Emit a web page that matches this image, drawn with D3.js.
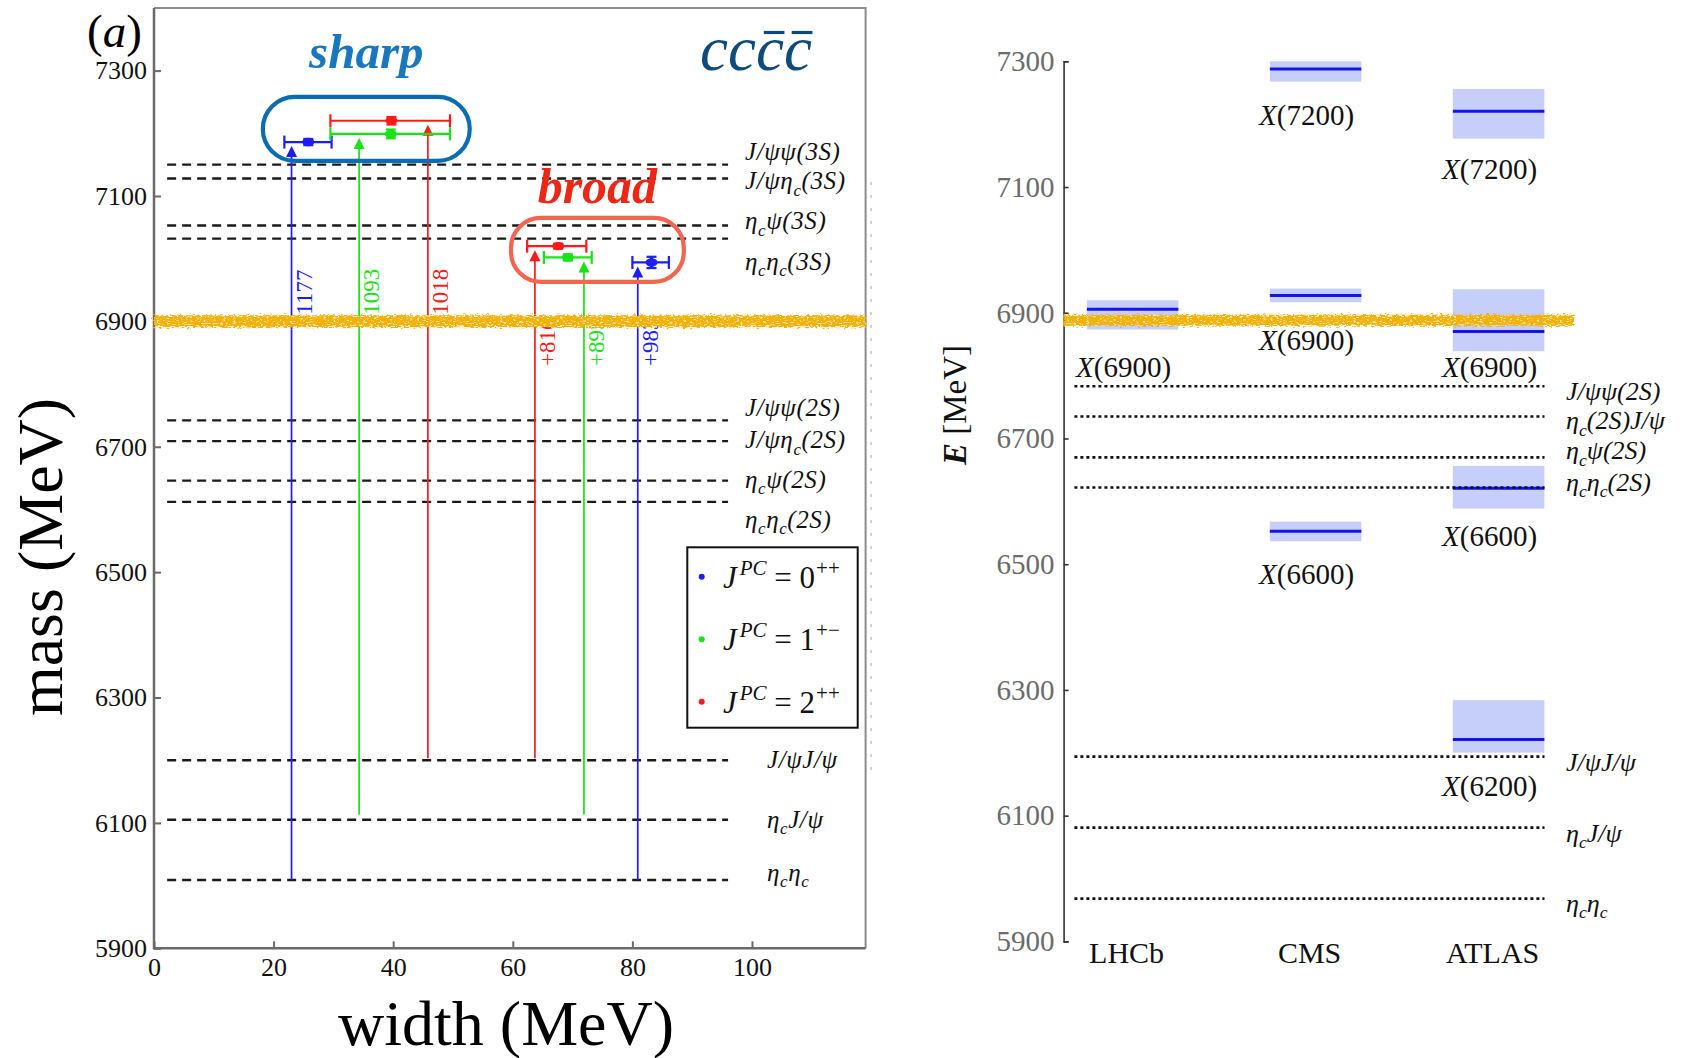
<!DOCTYPE html>
<html>
<head>
<meta charset="utf-8">
<script src="https://cdn.jsdelivr.net/npm/d3@7"></script>
<style>
  body { margin: 0; background: #fff; }
  svg { display: block; }
  text { font-family: "Liberation Serif", "Times New Roman", serif; }
</style>
</head>
<body>
<svg id="fig" width="1692" height="1058">
  <defs>
    <!-- hand-drawn highlighter look for the 6900 MeV stroke -->
    <filter id="marker" filterUnits="userSpaceOnUse" x="0" y="0" width="1692" height="1058">
      <feTurbulence type="fractalNoise" baseFrequency="0.3 0.8" numOctaves="3" seed="4" result="noise"/>
      <feDisplacementMap in="SourceGraphic" in2="noise" scale="7" xChannelSelector="R" yChannelSelector="G" result="rough"/>
      <feTurbulence type="fractalNoise" baseFrequency="0.3 0.9" numOctaves="2" seed="9" result="grain"/>
      <feColorMatrix in="grain" type="matrix"
        values="0 0 0 0 1  0 0 0 0 0.84  0 0 0 0 0.4  0 0 0 -6 2.6" result="spots"/>
      <feComposite in="spots" in2="rough" operator="in" result="spotsIn"/>
      <feMerge><feMergeNode in="rough"/><feMergeNode in="spotsIn"/></feMerge>
    </filter>
  </defs>
</svg>
<script>
// ================= panel (a): predicted cc̄cc̄ states, mass vs width =================
const massTicksA = [5900, 6100, 6300, 6500, 6700, 6900, 7100, 7300];
const widthTicks = [0, 20, 40, 60, 80, 100];

// two-meson thresholds (MeV)
const thrNamesA = ["J/ψψ(3S)", "J/ψη_c(3S)", "η_cψ(3S)", "η_cη_c(3S)",
                   "J/ψψ(2S)", "J/ψη_c(2S)", "η_cψ(2S)", "η_cη_c(2S)",
                   "J/ψJ/ψ", "η_cJ/ψ", "η_cη_c"];
const thrMassA = [7150, 7128, 7053, 7032, 6742, 6709, 6646, 6612, 6200, 6105, 6009];

// quantum numbers
const jpcSpin = ["0", "1", "2"];
const jpcSup = ["++", "+−", "++"];
const jpcColors = ["#1c1cff", "#17e317", "#ff1a1a"];

// predicted states: mass, width and their uncertainties
const stateJPC = [0, 1, 2, 2, 1, 0];
const stateClass = ["sharp", "sharp", "sharp", "broad", "broad", "broad"];
const stateWidth = [25.8, 39.6, 39.7, 67.6, 69.2, 83.2];
const stateWidthLo = [21.8, 29.5, 29.5, 62.4, 65.2, 80.0];
const stateWidthHi = [29.7, 49.5, 49.5, 72.3, 73.2, 86.1];
const stateMass = [7186, 7199, 7220, 7020, 7002, 6994];
const stateMassErr = [5, 7, 6, 4, 5, 9];

// decay arrows: channel threshold they rise from and their tags
const arrowAt = [23.0, 34.3, 45.8, 63.7, 71.9, 80.9];
const arrowFrom = [6009, 6113, 6203, 6203, 6113, 6009];
const arrowTag = ["+1177", "+1093", "+1018", "+816", "+895", "+983"];

// ================= panel (b): measured structures =================
const massTicksB = [5900, 6100, 6300, 6500, 6700, 6900, 7100, 7300];
const experiments = ["LHCb", "CMS", "ATLAS"];
const resExp = ["LHCb", "CMS", "CMS", "CMS", "ATLAS", "ATLAS", "ATLAS", "ATLAS"];
const resName = ["X(6900)", "X(7200)", "X(6900)", "X(6600)", "X(7200)", "X(6900)", "X(6600)", "X(6200)"];
const resMass = [6905.7, 7287.9, 6927.5, 6552.4, 7220.6, 6870.0, 6620.8, 6221.0];
const resLo = [6873.4, 7267.7, 6916.7, 6536.5, 7177.0, 6838.9, 6588.5, 6200.3];
const resHi = [6919.8, 7300.0, 6938.5, 6567.7, 7256.0, 6937.3, 6656.4, 6283.8];
const resLabelAt = [6814, 7215, 6857, 6484, 7129, 6814, 6545, 6147];

const thrNamesB = ["J/ψψ(2S)", "η_c(2S)J/ψ", "η_cψ(2S)", "η_cη_c(2S)", "J/ψJ/ψ", "η_cJ/ψ", "η_cη_c"];
const thrMassB = [6783, 6735, 6670, 6622, 6194, 6081, 5968];

// ================= drawing =================
const svg = d3.select("#fig");
svg.insert("rect", "defs").attr("width", 1692).attr("height", 1058).attr("fill", "#fff");
const SERIF = "'Liberation Serif','Times New Roman',serif";
const SANS = "'Liberation Sans',Arial,sans-serif";

// text with "_x" subscripts and "^{..}" superscripts
function rich(t, str, fs) {
  let shift = 0, i = 0;
  const put = (s, target, size) => {
    const ts = t.append("tspan").attr("dy", target - shift).text(s);
    if (size) ts.attr("font-size", size);
    shift = target;
  };
  while (i < str.length) {
    if (str[i] === "_") { put(str[i + 1], 0.26 * fs, 0.68 * fs); i += 2; }
    else if (str[i] === "^" && str[i + 1] === "{") {
      const j = str.indexOf("}", i);
      put(str.slice(i + 2, j), -0.4 * fs, 0.68 * fs); i = j + 1;
    } else {
      let j = i;
      while (j < str.length && str[j] !== "_" && str[j] !== "^") j++;
      put(str.slice(i, j), 0, null); i = j;
    }
  }
  return t;
}

// ---------- panel (a) ----------
const xA = d3.scaleLinear().domain([0, 119]).range([154, 865.6]);
const yA = d3.scaleLinear().domain([5900, 7400]).range([948.3, 7.9]);
const gA = svg.append("g");

// frame
gA.append("path").attr("fill", "none").attr("stroke", "#8c8c8c").attr("stroke-width", 2)
  .attr("d", `M${xA(0)},${yA(7400)}H${xA(119)}V${yA(5900)}`);
gA.append("path").attr("fill", "none").attr("stroke", "#6a6a6a").attr("stroke-width", 2.5)
  .attr("d", `M${xA(0)},${yA(7400)}V${yA(5900)}H${xA(119)}`);

// faint trace along the right edge
gA.append("line").attr("x1", 871).attr("x2", 871).attr("y1", 182).attr("y2", 775)
  .attr("stroke", "#c4c4c4").attr("stroke-width", 1.5).attr("stroke-dasharray", "3,10");

const axA = gA.append("g").attr("transform", `translate(${xA(0)},0)`)
  .call(d3.axisLeft(yA).tickValues(massTicksA).tickSizeInner(-7).tickSizeOuter(0)
        .tickPadding(7).tickFormat(d3.format("d")));
axA.select(".domain").remove();
axA.selectAll("line").attr("stroke", "#6a6a6a").attr("stroke-width", 2);
axA.selectAll("text").attr("font-family", SERIF).attr("font-size", 26).attr("fill", "#111");

const axX = gA.append("g").attr("transform", `translate(0,${yA(5900)})`)
  .call(d3.axisBottom(xA).tickValues(widthTicks).tickSizeInner(-7).tickSizeOuter(0)
        .tickPadding(9).tickFormat(d3.format("d")));
axX.select(".domain").remove();
axX.selectAll("line").attr("stroke", "#6a6a6a").attr("stroke-width", 2);
axX.selectAll("text").attr("font-family", SERIF).attr("font-size", 26).attr("fill", "#111");

// axis titles
gA.append("text").attr("transform", "translate(62,557) rotate(-90)")
  .attr("text-anchor", "middle").attr("font-size", 64).attr("fill", "#000").text("mass (MeV)");
gA.append("text").attr("x", 506).attr("y", 1045)
  .attr("text-anchor", "middle").attr("font-size", 64).attr("fill", "#000").text("width (MeV)");

// panel tag
const tagA = gA.append("text").attr("x", 87).attr("y", 47).attr("font-size", 47).attr("fill", "#000");
tagA.append("tspan").text("(");
tagA.append("tspan").attr("font-style", "italic").text("a");
tagA.append("tspan").text(")");

// thresholds
const thrLabelShiftA = [-13, 3, -4, 23, -12, -1, -1, 18, 0, 0, -7];
gA.append("g").selectAll("line").data(thrMassA).join("line")
  .attr("x1", xA(2.2)).attr("x2", xA(96))
  .attr("y1", d => yA(d)).attr("y2", d => yA(d))
  .attr("stroke", "#1a1a1a").attr("stroke-width", 2.4).attr("stroke-dasharray", "9,6");
thrNamesA.forEach((name, i) => {
  const t = gA.append("text")
    .attr("x", i < 8 ? 745 : 767).attr("y", yA(thrMassA[i]) + thrLabelShiftA[i] + 8)
    .attr("font-size", 25).attr("font-style", "italic").attr("letter-spacing", 0.6).attr("fill", "#111");
  rich(t, name, 25);
});

// decay arrows
const gArr = gA.append("g");
stateMass.forEach((m, i) => {
  const c = jpcColors[stateJPC[i]];
  const x = xA(arrowAt[i]);
  const tip = yA(m) + 4;
  gArr.append("line").attr("x1", x).attr("x2", x).attr("y1", yA(arrowFrom[i])).attr("y2", tip + 9)
    .attr("stroke", c).attr("stroke-width", 1.7);
  gArr.append("path").attr("fill", c)
    .attr("d", `M${x},${tip}L${x - 5.5},${tip + 11}L${x + 5.5},${tip + 11}Z`);
  const ty = stateClass[i] === "sharp" ? yA(6890) : yA(6829);
  gArr.append("text").attr("transform", `translate(${x + 20},${ty}) rotate(-90)`)
    .attr("font-size", 23).attr("fill", c).text(arrowTag[i]);
});

// states with error bars
const gPts = gA.append("g");
stateMass.forEach((m, i) => {
  const c = jpcColors[stateJPC[i]];
  const y = yA(m), x = xA(stateWidth[i]);
  const xl = xA(stateWidthLo[i]), xh = xA(stateWidthHi[i]);
  const g = gPts.append("g").attr("stroke", c).attr("stroke-width", 2.2);
  g.append("line").attr("x1", xl).attr("x2", xh).attr("y1", y).attr("y2", y);
  g.append("line").attr("x1", xl).attr("x2", xl).attr("y1", y - 6.5).attr("y2", y + 6.5);
  g.append("line").attr("x1", xh).attr("x2", xh).attr("y1", y - 6.5).attr("y2", y + 6.5);
  const yl = yA(m - stateMassErr[i]), yh = yA(m + stateMassErr[i]);
  g.append("line").attr("x1", x).attr("x2", x).attr("y1", yl).attr("y2", yh).attr("stroke-width", 3);
  g.append("line").attr("x1", x - 5).attr("x2", x + 5).attr("y1", yl).attr("y2", yl);
  g.append("line").attr("x1", x - 5).attr("x2", x + 5).attr("y1", yh).attr("y2", yh);
  gPts.append("ellipse").attr("cx", x).attr("cy", y).attr("rx", 6).attr("ry", 4.2).attr("fill", c);
});

// sharp / broad groupings
const sharpBox = { w: [18.2, 52.8], m: [7156, 7258] };
const broadBox = { w: [59.7, 88.6], m: [6963, 7065] };
function pill(box, color, r) {
  const x0 = xA(box.w[0]), x1 = xA(box.w[1]), y0 = yA(box.m[1]), y1 = yA(box.m[0]);
  gA.append("rect").attr("x", x0).attr("y", y0).attr("width", x1 - x0).attr("height", y1 - y0)
    .attr("rx", r).attr("ry", r).attr("fill", "none").attr("stroke", color).attr("stroke-width", 4.2);
  return [(x0 + x1) / 2, y0];
}
const [sx, sy] = pill(sharpBox, "#0a6db4", 32);
const [bx, by] = pill(broadBox, "#f4654f", 30);
gA.append("text").attr("x", sx).attr("y", sy - 29).attr("text-anchor", "middle")
  .attr("font-size", 49).attr("font-weight", "bold").attr("font-style", "italic")
  .attr("fill", "#1877bd").text("sharp");
gA.append("text").attr("x", bx).attr("y", by - 15).attr("text-anchor", "middle")
  .attr("font-size", 50).attr("font-weight", "bold").attr("font-style", "italic")
  .attr("fill", "#ec2716").text("broad");

// cc c̄ c̄ tag
const cc = gA.append("text").attr("x", 700).attr("y", 70).attr("font-size", 63)
  .attr("font-style", "italic").attr("fill", "#0e4a7c").text("cccc");
[2, 3].forEach(k => {
  const e = cc.node().getExtentOfChar(k);
  const x0 = e.x + 0.28 * e.width;
  gA.append("line").attr("x1", x0).attr("x2", x0 + 0.74 * e.width)
    .attr("y1", 32.5).attr("y2", 32.5).attr("stroke", "#0e4a7c").attr("stroke-width", 3.2);
});

// legend
const lg = gA.append("g");
lg.append("rect").attr("x", 687.3).attr("y", 547.3).attr("width", 170.4).attr("height", 180.4)
  .attr("fill", "#fff").attr("stroke", "#111").attr("stroke-width", 2);
jpcSpin.forEach((s, i) => {
  const y = 576.7 + i * 62.5;
  lg.append("circle").attr("cx", 701.7).attr("cy", y).attr("r", 3).attr("fill", jpcColors[i]);
  const t = lg.append("text").attr("x", 723).attr("y", y + 11).attr("font-size", 31).attr("fill", "#111");
  t.append("tspan").attr("font-style", "italic").text("J");
  t.append("tspan").attr("font-style", "italic").attr("font-size", 21).attr("dx", 3).attr("dy", -13).text("PC");
  t.append("tspan").attr("dy", 13).text(" = " + s);
  t.append("tspan").attr("font-size", 21).attr("dx", 1).attr("dy", -13).text(jpcSup[i]);
});

// ---------- panel (b) ----------
const yB = d3.scaleLinear().domain([5900, 7300]).range([941.4, 61.3]);
const xB = d3.scaleBand().domain(experiments).range([1063.6, 1567.6])
  .paddingInner(0.5).paddingOuter(0.127);
const gB = svg.append("g");

// uncertainty bands and central values
resMass.forEach((m, i) => {
  const x0 = xB(resExp[i]), w = xB.bandwidth();
  gB.append("rect").attr("x", x0).attr("y", yB(resHi[i])).attr("width", w)
    .attr("height", yB(resLo[i]) - yB(resHi[i])).attr("fill", "#c6cefa");
  gB.append("line").attr("x1", x0).attr("x2", x0 + w).attr("y1", yB(m)).attr("y2", yB(m))
    .attr("stroke", "#1414ec").attr("stroke-width", 3);
  const t = gB.append("text").attr("x", x0 + w / 2 - 9).attr("y", yB(resLabelAt[i]) + 10)
    .attr("text-anchor", "middle").attr("font-size", 29).attr("fill", "#111");
  t.append("tspan").attr("font-style", "italic").text(resName[i][0]);
  t.append("tspan").text(resName[i].slice(1));
});

// thresholds
gB.append("g").selectAll("line").data(thrMassB).join("line")
  .attr("x1", 1074.4).attr("x2", 1544.5)
  .attr("y1", d => yB(d)).attr("y2", d => yB(d))
  .attr("stroke", "#111").attr("stroke-width", 2.6).attr("stroke-dasharray", "3,3");
const thrLabelShiftB = [6, 5, -6, -5, 6, 6, 5];
thrNamesB.forEach((name, i) => {
  const t = gB.append("text").attr("x", 1566).attr("y", yB(thrMassB[i]) + thrLabelShiftB[i] + 8)
    .attr("font-size", 26).attr("font-style", "italic").attr("fill", "#111");
  rich(t, name, 26);
});

// axis
const axB = gB.append("g").attr("transform", "translate(1063.6,0)")
  .call(d3.axisLeft(yB).tickValues(massTicksB).tickSizeInner(-5).tickSizeOuter(-5)
        .tickPadding(9).tickFormat(d3.format("d")));
axB.select(".domain").attr("stroke", "#333").attr("stroke-width", 1.6);
axB.selectAll("line").attr("stroke", "#333").attr("stroke-width", 1.6);
axB.selectAll("text").attr("font-family", SANS).attr("font-size", 29).attr("fill", "#6b6b6b");

experiments.forEach(e => {
  gB.append("text").attr("x", xB(e) + xB.bandwidth() / 2 - 6).attr("y", 963)
    .attr("text-anchor", "middle").attr("font-size", 30).attr("fill", "#111").text(e);
});

const tE = gB.append("text").attr("transform", "translate(966,405) rotate(-90)")
  .attr("text-anchor", "middle").attr("font-size", 33).attr("fill", "#111");
tE.append("tspan").attr("font-style", "italic").attr("font-weight", "bold").text("E");
tE.append("tspan").text(" [MeV]");

// ---------- highlighter strokes at X(6900) ----------
const hl = svg.append("g").attr("filter", "url(#marker)");
hl.append("line").attr("x1", xA(0)).attr("x2", 866).attr("y1", yA(6900)).attr("y2", yA(6900))
  .attr("stroke", "#f4b200").attr("stroke-width", 12);
hl.append("line").attr("x1", 1063.6).attr("x2", 1574).attr("y1", yB(6888)).attr("y2", yB(6888))
  .attr("stroke", "#f4b200").attr("stroke-width", 11);
</script>
</body>
</html>
